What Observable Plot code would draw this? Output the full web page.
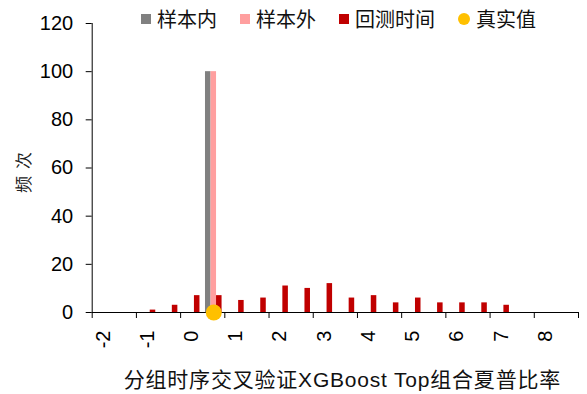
<!DOCTYPE html>
<html>
<head>
<meta charset="utf-8">
<script src="https://cdn.jsdelivr.net/npm/d3@7"></script>
<script src="https://cdn.jsdelivr.net/npm/@observablehq/plot@0.6"></script>
<style>
  html, body { margin: 0; padding: 0; background: #fff; }
  #wrap { position: relative; width: 587px; height: 394px; }
  #legend { position: absolute; left: 141px; top: 9px; display: flex; align-items: center; gap: 23px;
    font-family: "Noto Sans CJK SC", sans-serif; font-size: 20px; color: #111; line-height: 20px; }
  .item { display: flex; align-items: center; gap: 6px; }
  .sw { width: 10px; height: 10px; display: inline-block; }
  .circ { width: 12px; height: 12px; border-radius: 50%; display: inline-block; }
  .ylab { letter-spacing: 7px; }
  .xlab { letter-spacing: 0.8px; }
</style>
</head>
<body>
<div id="wrap"><div id="chart"></div><div id="legend"></div></div>
<script>
// ---- data ----
const tickLabels = [-2, -1, 0, 1, 2, 3, 4, 5, 6, 7, 8];
const binWidth = 0.5;
const lastCategory = 8.5;
const backtestX = [-1, -0.5, 0, 0.5, 1, 1.5, 2, 2.5, 3, 3.5, 4, 4.5, 5, 5.5, 6, 6.5, 7];
const backtestCount = [1, 3, 7, 7, 5, 6, 11, 10, 12, 6, 7, 4, 6, 4, 4, 4, 3];
const inSampleX = [0.5];
const inSampleCount = [100];
const outSampleX = [0.5];
const outSampleCount = [100];
const trueValue = [0.5];
const yTicks = [0, 20, 40, 60, 80, 100, 120];
const seriesNames = ["样本内", "样本外", "回测时间", "真实值"];
const seriesColors = ["#808080", "#FF9F9F", "#C00000", "#FFC000"];

// ---- build ----
const barW = binWidth / 4;
function series(xs, counts, k) {
  return xs.map((x, i) => ({x, count: counts[i], k}));
}
const bars = [
  ...series(inSampleX, inSampleCount, 0),
  ...series(outSampleX, outSampleCount, 1),
  ...series(backtestX, backtestCount, 2)
];
const xMin = tickLabels[0] - binWidth / 2;
const xMax = lastCategory + binWidth / 2;
const edges = [...tickLabels.map(v => v - binWidth / 2), xMax];

const chart = Plot.plot({
  width: 587,
  height: 394,
  marginLeft: 91.7,
  marginRight: 9,
  marginTop: 23,
  marginBottom: 82,
  style: {fontFamily: "'Liberation Sans', Arial, 'Noto Sans CJK SC', sans-serif", background: "#fff", color: "#000"},
  x: {domain: [xMin, xMax], label: null},
  y: {domain: [0, 120], label: null},
  marks: [
    Plot.axisY({ticks: yTicks, tickSize: 6, tickPadding: 13, fontSize: 20, label: null, stroke: "#000"}),
    Plot.axisX({ticks: edges, tickSize: 6, tickFormat: () => "", label: null, stroke: "#000"}),
    Plot.axisX({ticks: tickLabels, tickSize: 0, tickPadding: 18, tickRotate: -90, fontSize: 20,
      tickFormat: d => String(d), label: null}),
    Plot.ruleX([xMin], {y1: 0, y2: 120, stroke: "#000"}),
    Plot.ruleY([0], {stroke: "#000"}),
    Plot.rectY(bars, {
      x1: d => d.x + (d.k - 1.5) * barW,
      x2: d => d.x + (d.k - 0.5) * barW,
      y1: 0,
      y2: "count",
      fill: d => seriesColors[d.k]
    }),
    Plot.dot(trueValue, {x: d => d, y: 0, r: 8, fill: seriesColors[3], stroke: null}),
    Plot.text(["频次"], {frameAnchor: "left", dx: -68, dy: 25, rotate: -90, fontSize: 17,
      fontFamily: "'Noto Sans CJK SC', sans-serif", fill: "#222", className: "ylab"}),
    Plot.text(["分组时序交叉验证XGBoost Top组合夏普比率"], {frameAnchor: "bottom", dy: 74, dx: 7, fontSize: 21,
      fill: "#111", className: "xlab"})
  ]
});
document.getElementById("chart").appendChild(chart);

const legend = document.getElementById("legend");
seriesNames.forEach((name, i) => {
  const item = document.createElement("div");
  item.className = "item";
  const sw = document.createElement("span");
  sw.className = i === 3 ? "circ" : "sw";
  sw.style.background = seriesColors[i];
  const t = document.createElement("span");
  t.textContent = name;
  item.appendChild(sw);
  item.appendChild(t);
  legend.appendChild(item);
});
</script>
</body>
</html>
